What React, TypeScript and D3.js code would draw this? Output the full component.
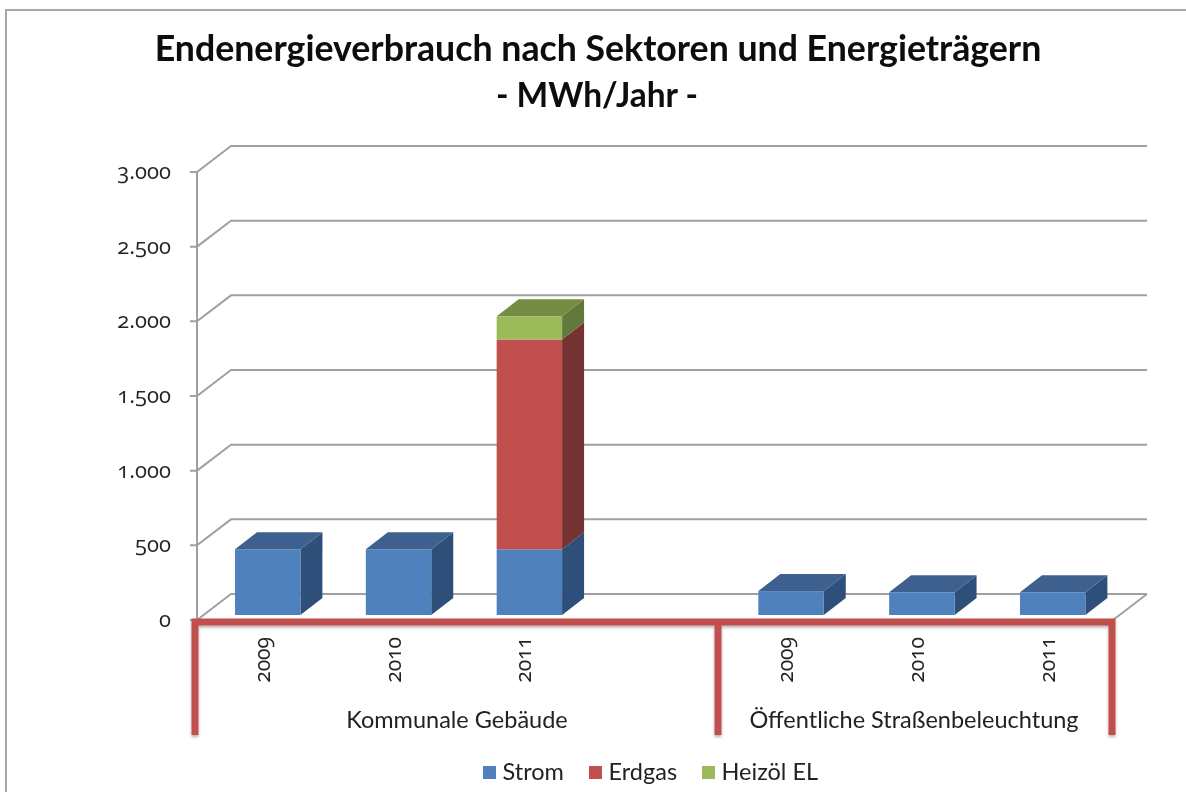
import React from "react";
import { scaleBand, scaleLinear, stack, path } from "d3";

const slots = ["a2009", "a2010", "a2011", "gap", "b2009", "b2010", "b2011"];
const yearLabels = ["2009", "2010", "2011", "", "2009", "2010", "2011"];
const strom = [440, 440, 440, 0, 160, 152, 152];
const erdgas = [0, 0, 1405, 0, 0, 0, 0];
const heizoel = [0, 0, 155, 0, 0, 0, 0];
const seriesNames = ["Strom", "Erdgas", "Heizöl EL"];
const yTicks = [0, 500, 1000, 1500, 2000, 2500, 3000];
const tickLabels = ["0", "500", "1.000", "1.500", "2.000", "2.500", "3.000"];
const groupNames = ["Kommunale Gebäude", "Öffentliche Straßenbeleuchtung"];

const colors = ["#4f81bd", "#c0504d", "#9bbb59"];
const topColors = ["#3c608e", "#90403d", "#748d43"];
const sideColors = ["#2f5079", "#753230", "#64793a"];
const FONT = "Lato, 'Open Sans', sans-serif";
const NUM_FONT = "'Open Sans', Lato, sans-serif";
const TEXT = "#222222";
const ONUM = { fontVariantNumeric: "oldstyle-nums", fontFeatureSettings: "'onum' 1" } as const;

// 3D offsets, wall and bars
const wallDx = 34;
const wallDy = -26;
const barDx = 22;
const barDy = -17;
const frontLeft = 197;
const frontRight = 1113;
const frontZero = 620;

const y = scaleLinear().domain([0, 3000]).range([frontZero, 172]);
const x = scaleBand<string>().domain(slots).range([202.3, 1118.1]).paddingInner(0.5).paddingOuter(0.25);
const barZero = 615;
const h = (v: number) => frontZero - y(v);

const rows = slots.map((s, i) => ({ s, Strom: strom[i], Erdgas: erdgas[i], "Heizöl EL": heizoel[i] }));
const stacked = stack<any>().keys(seriesNames)(rows);

function poly(pts: number[][]) {
  const p = path();
  pts.forEach((q, i) => (i ? p.lineTo(q[0], q[1]) : p.moveTo(q[0], q[1])));
  p.closePath();
  return p.toString();
}

export default function App() {
  const bw = x.bandwidth();
  return (
    <svg width={1186} height={792} style={{ position: "absolute", left: 0, top: 0, background: "#fff" }}>
      <defs>
        <filter id="soft" x="-5%" y="-5%" width="110%" height="110%">
          <feGaussianBlur stdDeviation="0.55" />
        </filter>
        <filter id="shadow" x="-20%" y="-5%" width="140%" height="115%">
          <feDropShadow dx="0" dy="2" stdDeviation="1.5" floodColor="#000" floodOpacity="0.3" />
        </filter>
      </defs>
      <g filter="url(#soft)">
        <path d="M6,792V10H1186" fill="none" stroke="#a6a6a6" strokeWidth={2} />

        {/* wall and floor lines */}
        <line x1={frontLeft} x2={frontLeft} y1={y(3000)} y2={y(0)} stroke="#a0a0a0" strokeWidth={2} />
        {yTicks.map((t) => (
          <g key={t} fill="none" stroke="#a0a0a0" strokeWidth={2}>
            <path d={`M${frontLeft - 7},${y(t)}H${frontLeft}L${frontLeft + wallDx},${y(t) + wallDy}H${frontRight + wallDx}`} />
          </g>
        ))}
        <line x1={frontRight} y1={frontZero} x2={frontRight + wallDx} y2={frontZero + wallDy} stroke="#a0a0a0" strokeWidth={2} />

        {/* bars, back to front */}
        {slots.map((s, i) => {
          const x0 = x(s) as number;
          const x1 = x0 + bw;
          if (s === "gap") return null;
          const segs = stacked
            .map((ser, k) => ({ k, v0: ser[i][0], v1: ser[i][1] }))
            .filter((d) => d.v1 > d.v0);
          const last = segs[segs.length - 1];
          return (
            <g key={s}>
              {segs.map((d) => {
                const yb = barZero - h(d.v0);
                const yt = barZero - h(d.v1);
                return (
                  <g key={d.k}>
                    <path
                      d={poly([[x1, yb], [x1 + barDx, yb + barDy], [x1 + barDx, yt + barDy], [x1, yt]])}
                      fill={sideColors[d.k]}
                    />
                    <rect x={x0} y={yt} width={bw} height={yb - yt} fill={colors[d.k]} />
                  </g>
                );
              })}
              <path
                d={poly([
                  [x0, barZero - h(last.v1)],
                  [x0 + barDx, barZero - h(last.v1) + barDy],
                  [x1 + barDx, barZero - h(last.v1) + barDy],
                  [x1, barZero - h(last.v1)],
                ])}
                fill={topColors[last.k]}
              />
            </g>
          );
        })}

        {/* red brackets on the category axis */}
        <g filter="url(#shadow)" stroke="#c0504d" strokeWidth={7} fill="none">
          <path d="M195,735V622H1112V735" />
          <path d="M718,622V735" />
        </g>

        {/* y tick labels */}
        <g fontFamily={NUM_FONT} fontSize={22} fill={TEXT} textAnchor="end" style={ONUM}>
          {yTicks.map((t, i) => (
            <text key={t} x={171} y={y(t) + 7}>
              {tickLabels[i]}
            </text>
          ))}
        </g>

        {/* year labels */}
        <g fontFamily={NUM_FONT} fontSize={21} fill={TEXT} textAnchor="end" style={ONUM}>
          {slots.map((s, i) =>
            yearLabels[i] ? (
              <text key={s} transform={`translate(${(x(s) as number) + bw / 2 + 2},637) rotate(-90)`}>
                {yearLabels[i]}
              </text>
            ) : null
          )}
        </g>

        {/* group labels */}
        <g fontFamily={FONT} fontSize={23.5} fill={TEXT} textAnchor="middle">
          <text x={457} y={728}>{groupNames[0]}</text>
          <text x={914} y={728}>{groupNames[1]}</text>
        </g>

        {/* title */}
        <g fontFamily={FONT} fontWeight={700} fill="#0a0a0a" textAnchor="middle">
          <text x={598} y={61} fontSize={35.7}>Endenergieverbrauch nach Sektoren und Energieträgern</text>
          <text x={597} y={107} fontSize={33.5}>- MWh/Jahr -</text>
        </g>

        {/* legend */}
        <g fontFamily={FONT} fontSize={23.5} fill={TEXT}>
          {seriesNames.map((n, i) => {
            const lx = [483, 589, 702][i];
            return (
              <g key={n}>
                <rect x={lx} y={766} width={13} height={13} fill={colors[i]} />
                <text x={lx + 19.5} y={780}>{n}</text>
              </g>
            );
          })}
        </g>
      </g>
    </svg>
  );
}
